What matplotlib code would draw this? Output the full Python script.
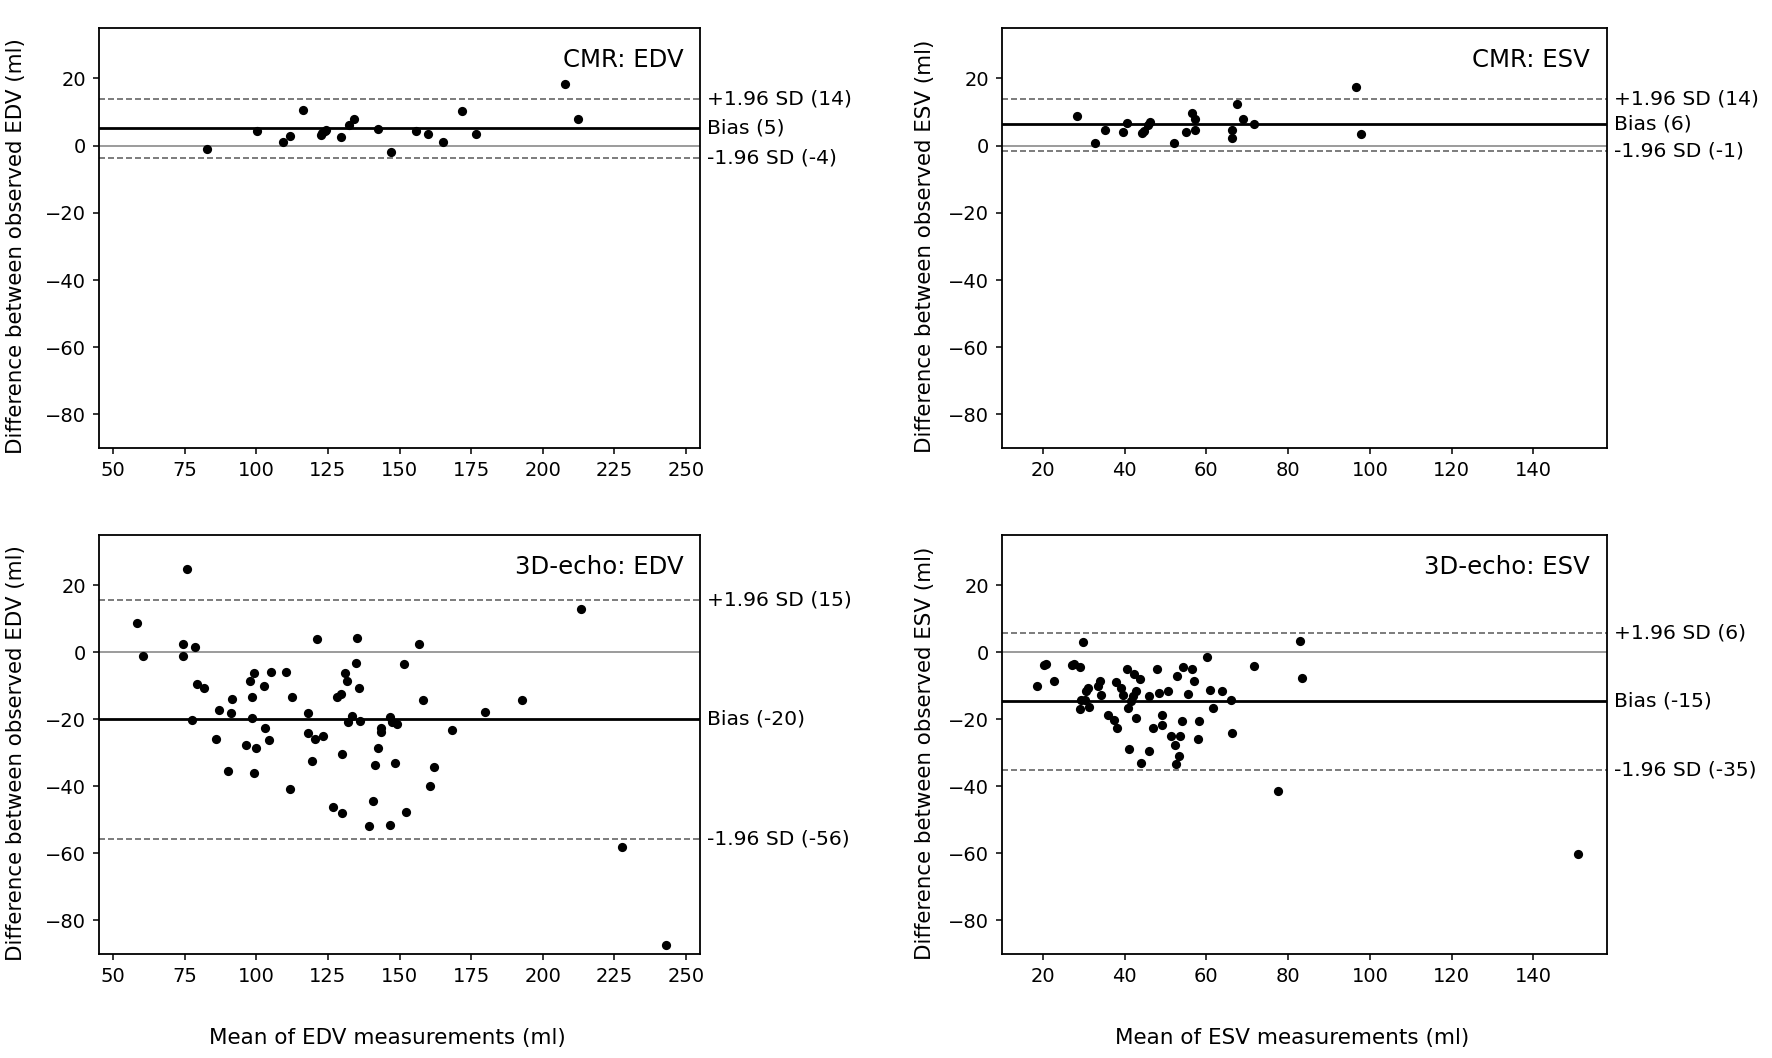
import numpy as np
import matplotlib
matplotlib.use('Agg')
import matplotlib.pyplot as plt
import matplotlib.transforms as mtransforms

plt.rcParams['font.family'] = ['DejaVu Sans']

# CMR: EDV
cmr_edv_mean = [82.8, 100.3, 109.2, 111.9, 116.4, 122.4, 122.8, 123.8, 124.3, 129.5,
                132.4, 134.1, 142.4, 147.1, 155.9, 159.9, 165.2, 172.0, 176.6, 207.7, 212.5]
cmr_edv_diff = [-1.0, 4.4, 1.2, 3.0, 10.7, 3.2, 3.7, 4.2, 4.5, 2.6,
                6.2, 8.0, 4.9, -1.9, 4.3, 3.5, 1.2, 10.2, 3.5, 18.2, 8.0]

# CMR: ESV
cmr_esv_mean = [28.3, 32.7, 35.2, 39.6, 40.7, 44.3, 44.8, 45.6, 46.2, 52.1,
                54.9, 56.4, 57.1, 57.3, 66.3, 66.3, 67.4, 68.9, 71.7, 96.7, 97.7]
cmr_esv_diff = [8.8, 0.9, 4.7, 3.9, 6.7, 3.7, 4.4, 6.2, 6.9, 0.9,
                3.9, 9.8, 8.0, 4.7, 4.5, 2.2, 12.4, 8.0, 6.5, 17.3, 3.5]

# 3D-echo: EDV
echo_edv_mean = [58.3, 60.4, 74.4, 74.4, 75.9, 78.5, 77.5, 79.1, 81.6, 85.9,
                 86.9, 90.1, 91.1, 91.5, 96.2, 97.8, 98.3, 98.3, 99.3, 99.3,
                 99.8, 102.5, 102.9, 104.5, 105.0, 110.3, 111.9, 112.3, 118.0, 118.0,
                 119.6, 120.6, 121.1, 123.3, 126.8, 128.3, 129.5, 130.0, 130.0, 131.0,
                 131.5, 132.0, 133.5, 134.7, 135.2, 135.7, 136.1, 139.2, 140.8, 141.4,
                 142.4, 143.4, 143.5, 146.6, 146.6, 147.4, 148.6, 149.2, 151.4, 152.2,
                 156.9, 158.1, 160.6, 162.2, 168.3, 179.9, 192.8, 213.5, 227.6, 243.2]
echo_edv_diff = [8.8, -1.0, 2.6, -1.0, 24.9, 1.7, -20.1, -9.4, -10.7, -25.8,
                 -17.3, -35.5, -18.1, -13.9, -27.6, -8.6, -13.3, -19.6, -6.3, -36.0,
                 -28.5, -10.1, -22.7, -26.3, -5.9, -5.9, -40.8, -13.3, -18.1, -24.0,
                 -32.4, -25.8, 4.0, -24.9, -46.1, -13.3, -12.3, -30.2, -48.0, -6.3,
                 -8.6, -20.9, -19.1, -3.2, 4.4, -10.7, -20.5, -51.8, -44.5, -33.7,
                 -28.5, -22.7, -23.7, -19.4, -51.4, -20.9, -32.9, -21.3, -3.6, -47.6,
                 2.6, -14.2, -40.0, -34.2, -23.1, -17.8, -14.2, 12.8, -58.2, -87.2]

# 3D-echo: ESV
echo_esv_mean = [18.5, 20.3, 20.7, 22.8, 27.2, 27.6, 29.0, 29.0, 29.8, 29.4,
                 30.2, 30.5, 31.0, 31.2, 33.4, 34.0, 34.1, 35.9, 37.4, 37.8,
                 38.1, 39.2, 39.6, 40.7, 40.9, 41.1, 41.5, 42.0, 42.2, 42.8,
                 42.9, 43.7, 44.0, 45.9, 46.0, 47.0, 48.0, 48.4, 49.1, 49.2,
                 50.7, 51.3, 52.4, 52.6, 52.9, 53.2, 53.6, 54.1, 54.3, 55.4,
                 56.5, 56.9, 58.0, 58.3, 60.1, 60.8, 61.6, 63.8, 65.9, 66.3,
                 71.7, 77.5, 83.0, 83.5, 150.9]
echo_esv_diff = [-9.9, -3.9, -3.4, -8.6, -3.9, -3.6, -4.5, -16.9, 3.0, -14.2,
                 -14.2, -11.6, -10.7, -16.4, -9.9, -8.6, -12.8, -18.6, -20.3, -8.9,
                 -22.7, -10.5, -12.8, -4.9, -16.5, -28.9, -14.6, -13.1, -6.4, -11.6,
                 -19.6, -8.1, -32.9, -29.4, -12.9, -22.7, -4.9, -12.0, -18.6, -21.8,
                 -11.5, -24.9, -27.6, -33.3, -7.2, -31.0, -24.9, -20.5, -4.5, -12.4,
                 -4.9, -8.6, -25.8, -20.5, -1.4, -11.1, -16.5, -11.5, -14.3, -24.0,
                 -4.1, -41.3, 3.5, -7.8, -60.2]

# bias, upper, lower limits and their labels
panel_titles = ['CMR: EDV', 'CMR: ESV', '3D-echo: EDV', '3D-echo: ESV']
bias = [5.2, 6.5, -19.9, -14.4]
upper = [13.9, 13.9, 15.5, 5.7]
lower = [-3.6, -1.5, -55.6, -35.0]
bias_labels = ['Bias (5)', 'Bias (6)', 'Bias (-20)', 'Bias (-15)']
upper_labels = ['+1.96 SD (14)', '+1.96 SD (14)', '+1.96 SD (15)', '+1.96 SD (6)']
lower_labels = ['-1.96 SD (-4)', '-1.96 SD (-1)', '-1.96 SD (-56)', '-1.96 SD (-35)']

xs = [cmr_edv_mean, cmr_esv_mean, echo_edv_mean, echo_esv_mean]
ys = [cmr_edv_diff, cmr_esv_diff, echo_edv_diff, echo_esv_diff]

W, H = 1772, 1058
fig = plt.figure(figsize=(W / 100, H / 100), dpi=100)

col_x = [(99, 601), (1002, 605)]
row_y = [(28, 420), (535, 419)]

for i in range(4):
    r, c = divmod(i, 2)
    x0, w = col_x[c]
    y0, h = row_y[r]
    ax = fig.add_axes([x0 / W, 1 - (y0 + h) / H, w / W, h / H])

    ax.axhline(0, color='#808080', lw=1.1, zorder=1)
    ax.axhline(upper[i], color='#666666', lw=1.2, ls=(0, (3.6, 1.8)), zorder=1)
    ax.axhline(lower[i], color='#666666', lw=1.2, ls=(0, (3.6, 1.8)), zorder=1)
    ax.axhline(bias[i], color='black', lw=2.0, zorder=2)
    ax.scatter(xs[i], ys[i], s=44, color='black', zorder=3, linewidths=0)

    ax.set_ylim(-90, 35)
    ax.set_yticks([-80, -60, -40, -20, 0, 20])
    if c == 0:
        ax.set_xlim(45, 255)
        ax.set_xticks([50, 75, 100, 125, 150, 175, 200, 225, 250])
    else:
        ax.set_xlim(10, 158)
        ax.set_xticks([20, 40, 60, 80, 100, 120, 140])

    for sp in ax.spines.values():
        sp.set_linewidth(1.3)
    ax.tick_params(labelsize=14, length=4.5, width=1.1, pad=5)

    trans = mtransforms.blended_transform_factory(ax.transAxes, ax.transData)
    for yv, lab in [(upper[i], upper_labels[i]), (bias[i], bias_labels[i]),
                    (lower[i], lower_labels[i])]:
        ax.text(1.012, yv, lab, transform=trans, ha='left', va='center',
                fontsize=14.6, clip_on=False)

    ax.text(0.972, 0.924, panel_titles[i], transform=ax.transAxes, ha='right',
            va='center', fontsize=17.6)

    meas = 'EDV' if c == 0 else 'ESV'
    ax.set_ylabel('Difference between observed %s (ml)' % meas, fontsize=15.4, va='center')
    ax.yaxis.set_label_coords(-0.138 if c == 0 else -0.128, 0.48)
    if r == 1:
        ax.set_xlabel('Mean of %s measurements (ml)' % meas, fontsize=15.5, va='center')
        ax.xaxis.set_label_coords(0.48, -0.20)

fig.savefig('out.png', dpi=100)
